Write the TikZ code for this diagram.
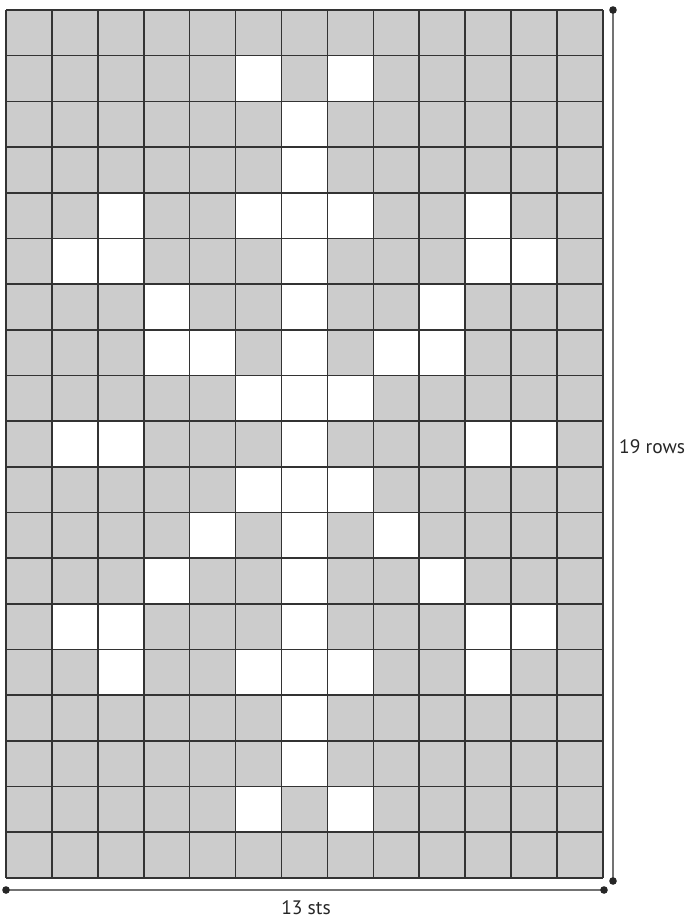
\documentclass[tikz,border=0pt]{standalone}
\usepackage{fontspec}
\setmainfont{PT Sans}
\begin{document}
\begin{tikzpicture}[x=1pt,y=-1pt,
  gridline/.style={draw=black!80,line width=1.6pt},
  measure/.style={draw=black!55,line width=2.6pt},
  enddot/.style={fill=black!85},
  lbl/.style={font=\fontsize{19.5}{22}\selectfont,text=black!85,inner sep=0pt}]
\useasboundingbox (0,0) rectangle (695,924);
\def\gl{6}\def\gt{10}\def\cw{45.92}\def\ch{45.68}
% base fill
\fill[black!20] (6,10) rectangle (603,878);
% white cells (col,row)
\foreach \c/\r in {5/1,7/1,6/2,6/3,2/4,5/4,6/4,7/4,10/4,
  1/5,2/5,6/5,10/5,11/5,3/6,6/6,9/6,3/7,4/7,6/7,8/7,9/7,
  5/8,6/8,7/8,1/9,2/9,6/9,10/9,11/9,5/10,6/10,7/10,
  4/11,6/11,8/11,3/12,6/12,9/12,1/13,2/13,6/13,10/13,11/13,
  2/14,5/14,6/14,7/14,10/14,6/15,6/16,5/17,7/17}
  \fill[white] ({\gl+\c*\cw},{\gt+\r*\ch}) rectangle ({\gl+(\c+1)*\cw},{\gt+(\r+1)*\ch});
% grid lines
\foreach \i in {0,...,13}
  \draw[gridline] ({\gl+\i*\cw},\gt) -- ({\gl+\i*\cw},878);
\foreach \j in {0,...,19}
  \draw[gridline] (\gl,{\gt+\j*\ch}) -- (603,{\gt+\j*\ch});
% measures
\coordinate (vt) at (613,10);
\coordinate (vb) at (613,881);
\coordinate (hl) at (6,890);
\coordinate (hr) at (604,890);
\draw[measure] (vt) -- (vb);
\draw[measure] (hl) -- (hr);
\foreach \p in {vt,vb,hl,hr} \fill[enddot] (\p) circle (3.8);
\node[lbl,anchor=west] (rows) at (619,447) {19 rows};
\node[lbl] (sts) at (306,908) {13 sts};
\end{tikzpicture}
\end{document}
